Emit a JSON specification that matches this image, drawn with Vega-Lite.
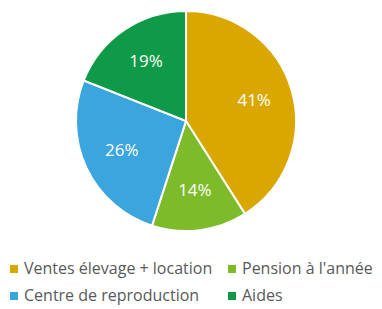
{
  "$schema": "https://vega.github.io/schema/vega-lite/v6.json",
  "width": 372,
  "height": 242,
  "padding": {"left": 0, "top": 0, "right": 0, "bottom": 5},
  "background": "white",
  "view": {"stroke": null},
  "data": {"values": [
    {"cat": "Ventes élevage + location", "pct": 41, "ord": 1, "label": "41%"},
    {"cat": "Pension à l'année", "pct": 14, "ord": 2, "label": "14%"},
    {"cat": "Centre de reproduction", "pct": 26, "ord": 3, "label": "26%"},
    {"cat": "Aides", "pct": 19, "ord": 4, "label": "19%"}
  ]},
  "encoding": {
    "theta": {"field": "pct", "type": "quantitative", "stack": true},
    "order": {"field": "ord", "type": "quantitative"},
    "color": {
      "field": "cat", "type": "nominal",
      "scale": {
        "domain": ["Ventes élevage + location", "Centre de reproduction", "Pension à l'année", "Aides"],
        "range": ["#D9A700", "#3BA5DE", "#7DBB2B", "#0F9A47"]
      },
      "legend": {
        "title": null,
        "orient": "none",
        "legendX": 6,
        "legendY": 261,
        "padding": 0,
        "columns": 2,
        "columnPadding": 11,
        "rowPadding": 11,
        "symbolType": "square",
        "symbolSize": 64,
        "symbolStrokeWidth": 0,
        "labelFont": "Open Sans",
        "labelFontSize": 16,
        "labelColor": "#595959",
        "labelLimit": 300,
        "labelOffset": 2
      }
    }
  },
  "layer": [
    {"mark": {"type": "arc", "outerRadius": 110, "stroke": "white", "strokeWidth": 2}},
    {
      "mark": {"type": "text", "radius": 71, "font": "Open Sans", "fontSize": 17, "fill": "white"},
      "encoding": {"text": {"field": "label"}, "color": {"value": "white"}}
    }
  ]
}
